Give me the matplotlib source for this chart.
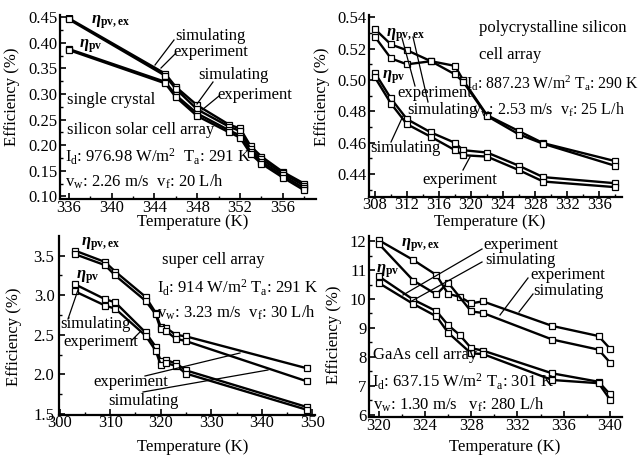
import matplotlib
matplotlib.use("Agg")
import matplotlib.pyplot as plt
from matplotlib.ticker import MultipleLocator, FormatStrFormatter

plt.rcParams['font.family'] = ['Liberation Serif', 'DejaVu Serif']
plt.rcParams['mathtext.fontset'] = 'custom'
plt.rcParams['mathtext.rm'] = 'Liberation Serif'
plt.rcParams['mathtext.it'] = 'Liberation Serif:italic'
plt.rcParams['mathtext.bf'] = 'Liberation Serif:bold:italic'
plt.rcParams['mathtext.sf'] = 'Liberation Serif:bold'

# ---------------- data ----------------
# Panel 1: single crystal silicon
p1_T = [336, 345, 346, 348, 351, 352, 353, 354, 356, 358]
p1_ex_sim = [0.448, 0.340, 0.314, 0.278, 0.240, 0.233, 0.198, 0.178, 0.148, 0.125]
p1_ex_exp = [0.446, 0.336, 0.310, 0.270, 0.236, 0.228, 0.192, 0.173, 0.145, 0.121]
p1_pv_sim = [0.388, 0.324, 0.298, 0.262, 0.229, 0.219, 0.187, 0.168, 0.141, 0.116]
p1_pv_exp = [0.386, 0.321, 0.294, 0.257, 0.225, 0.215, 0.183, 0.164, 0.137, 0.112]

# Panel 2: polycrystalline silicon
p2_T = [308, 310, 312, 315, 318, 319, 322, 326, 329, 338]
p2_ex_a = [0.5325, 0.5227, 0.519, 0.512, 0.509, 0.500, 0.4775, 0.4673, 0.4597, 0.4482]
p2_ex_b = [0.5276, 0.5138, 0.510, 0.512, 0.5036, 0.4990, 0.4770, 0.4652, 0.4593, 0.4452]
p2_pv_a = [0.5046, 0.4882, 0.4750, 0.4665, 0.4599, 0.4552, 0.4537, 0.4452, 0.4380, 0.4341]
p2_pv_b = [0.5017, 0.4850, 0.4718, 0.4637, 0.4552, 0.4520, 0.4511, 0.4424, 0.4352, 0.4316]

# Panel 3: super cell array
p3_T = [303, 309, 311, 317, 319, 320, 321, 323, 325, 349]
p3_ex_a = [3.565, 3.42, 3.30, 2.98, 2.78, 2.60, 2.59, 2.50, 2.48, 2.075]
p3_ex_b = [3.52, 3.38, 3.25, 2.93, 2.76, 2.57, 2.55, 2.45, 2.42, 1.91]
p3_pv_a = [3.14, 2.95, 2.91, 2.53, 2.35, 2.17, 2.18, 2.14, 2.05, 1.585]
p3_pv_b = [3.05, 2.87, 2.83, 2.49, 2.30, 2.12, 2.14, 2.11, 2.01, 1.55]

# Panel 4: GaAs cell array
p4_T_a = [320, 323, 325, 326, 327, 328, 329, 335, 339, 340]
p4_ex_exp = [12.04, 11.35, 10.83, 10.18, 10.08, 9.85, 9.92, 9.07, 8.72, 8.28]
p4_pv_a = [10.79, 9.98, 9.58, 9.10, 8.76, 8.30, 8.22, 7.43, 7.14, 6.70]
p4_T_b = [320, 323, 325, 326, 328, 329, 335, 339, 340]
p4_ex_sim = [11.92, 10.64, 10.16, 10.57, 9.57, 9.52, 8.60, 8.25, 7.80]
p4_pv_b = [10.56, 9.83, 9.40, 8.84, 8.12, 8.10, 7.20, 7.09, 6.52]

xlabel = "Temperature (K)"
ylabel = "Efficiency (%)"
lab_ex = r"$\mathbf{\eta}_{\mathsf{pv,ex}}$"
lab_pv = r"$\mathbf{\eta}_{\mathsf{pv}}$"

W, H = 639, 457
fig = plt.figure(figsize=(W / 100, H / 100), dpi=100)


def P(x, y):
    return (x / W, 1 - y / H)


def add_axes(l, r, b, t):
    return fig.add_axes([l / W, 1 - b / H, (r - l) / W, (b - t) / H])


LINE = dict(color='black', lw=1.7, marker='s', ms=4.3, mfc='white',
            mec='black', mew=0.9)
FS = 12


def style(ax, xlim, ylim, xmaj, xmin, ymaj, ymin, yfmt):
    ax.set_xlim(*xlim)
    ax.set_ylim(*ylim)
    ax.xaxis.set_major_locator(MultipleLocator(xmaj))
    ax.xaxis.set_minor_locator(MultipleLocator(xmin))
    ax.yaxis.set_major_locator(MultipleLocator(ymaj))
    ax.yaxis.set_minor_locator(MultipleLocator(ymin))
    ax.yaxis.set_major_formatter(FormatStrFormatter(yfmt))
    for s in ['top', 'right']:
        ax.spines[s].set_visible(False)
    for s in ['left', 'bottom']:
        ax.spines[s].set_linewidth(1.6)
    ax.tick_params(which='major', direction='in', length=4, width=1.2,
                   labelsize=FS)
    ax.tick_params(axis='x', which='major', pad=0.5)
    ax.tick_params(axis='y', which='major', pad=2)
    ax.tick_params(which='minor', direction='in', length=2.5, width=1.0)
    ax.patch.set_alpha(0)


def txt(x, y, s, fs=FS):
    fig.text(*P(x, y), s, ha='left', va='center', fontsize=fs)


def ptr(x0, y0, x1, y1):
    fig.add_artist(plt.Line2D([x0 / W, x1 / W], [1 - y0 / H, 1 - y1 / H],
                              color='black', lw=0.9,
                              transform=fig.transFigure))


def labels(xl, yl):
    fig.text(*P(*xl), xlabel, ha='center', va='center', fontsize=FS)
    fig.text(*P(*yl), ylabel, ha='center', va='center', fontsize=FS,
             rotation=90)


# ---------------- Panel 1 ----------------
ax1 = add_axes(60.3, 316, 199, 15)
ax1.plot(p1_T, p1_ex_sim, **LINE)
ax1.plot(p1_T, p1_ex_exp, **LINE)
ax1.plot(p1_T, p1_pv_sim, **LINE)
ax1.plot(p1_T, p1_pv_exp, **LINE)
style(ax1, (335.2, 359.1), (0.095, 0.4545), 4, 2, 0.05, 0.025, '%.2f')
labels((193, 222.5), (12.5, 97))
txt(91, 22, lab_ex)
txt(79, 46, lab_pv)
txt(175, 36.5, "simulating")
txt(173, 51.5, "experiment")
ptr(155, 65, 174, 40)
ptr(161, 68, 176, 53)
txt(198, 75, "simulating")
txt(217, 95, "experiment")
ptr(197, 104, 213, 82)
ptr(202, 110, 219, 96)
txt(67, 100, "single crystal")
txt(67, 130, "silicon solar cell array")
txt(65, 157, r"I$_\mathrm{d}$: 976.98 W/m$^\mathrm{2}$  T$_\mathrm{a}$: 291 K")
txt(65, 182, r"v$_\mathrm{w}$: 2.26 m/s  v$_\mathrm{f}$: 20 L/h")

# ---------------- Panel 2 ----------------
ax2 = add_axes(369.3, 621.7, 196.7, 15)
ax2.plot(p2_T, p2_ex_a, **LINE)
ax2.plot(p2_T, p2_ex_b, **LINE)
ax2.plot(p2_T, p2_pv_a, **LINE)
ax2.plot(p2_T, p2_pv_b, **LINE)
style(ax2, (307.3, 338.8), (0.4255, 0.5415), 4, 2, 0.02, 0.01, '%.2f')
labels((490, 222.5), (322, 97))
txt(386, 35, lab_ex)
txt(382, 77, lab_pv)
txt(479, 28, "polycrystalline silicon")
txt(479, 55, "cell array")
txt(466, 83, r"I$_\mathrm{d}$: 887.23 W/m$^\mathrm{2}$ T$_\mathrm{a}$: 290 K", 11.3)
txt(472, 110, r"v$_\mathrm{w}$: 2.53 m/s  v$_\mathrm{f}$: 25 L/h", 11.5)
txt(397, 93, "experiment")
txt(407, 110, "simulating")
ptr(402, 38, 415, 86)
ptr(413, 37, 428, 102)
txt(370, 148, "simulating")
txt(422, 180, "experiment")
ptr(391, 142, 403, 116)
ptr(463, 170, 470, 157)

# ---------------- Panel 3 ----------------
ax3 = add_axes(59.3, 315, 414.7, 236.3)
ax3.plot(p3_T, p3_ex_a, **LINE)
ax3.plot(p3_T, p3_ex_b, **LINE)
ax3.plot(p3_T, p3_pv_a, **LINE)
ax3.plot(p3_T, p3_pv_b, **LINE)
style(ax3, (299.95, 350.5), (1.49, 3.745), 10, 5, 0.5, 0.25, '%.1f')
ax3.tick_params(axis='y', which='major', pad=3.5)
labels((192.5, 447), (14.5, 337))
txt(81, 244, lab_ex)
txt(76, 277, lab_pv)
txt(162, 260, "super cell array")
txt(157, 288, r"I$_\mathrm{d}$: 914 W/m$^\mathrm{2}$ T$_\mathrm{a}$: 291 K")
txt(157, 313, r"v$_\mathrm{w}$: 3.23 m/s  v$_\mathrm{f}$: 30 L/h")
txt(60, 324, "simulating")
txt(63, 342, "experiment")
ptr(68, 319, 79, 287)
ptr(132, 340, 140, 332)
txt(93, 382, "experiment")
txt(108, 401, "simulating")
ptr(145, 376, 240, 353)
ptr(143, 392, 268, 370)

# ---------------- Panel 4 ----------------
ax4 = add_axes(369.3, 621.7, 417.3, 236.3)
ax4.plot(p4_T_a, p4_ex_exp, **LINE)
ax4.plot(p4_T_b, p4_ex_sim, **LINE)
ax4.plot(p4_T_a, p4_pv_a, **LINE)
ax4.plot(p4_T_b, p4_pv_b, **LINE)
style(ax4, (319.2, 341.0), (5.91, 12.17), 4, 2, 1, 0.5, '%d')
labels((505, 447), (334.5, 335))
txt(401, 245, lab_ex)
txt(376, 271, lab_pv)
txt(483, 245, "experiment")
txt(485, 260.5, "simulating")
ptr(482, 249, 403, 295)
ptr(482, 262, 410, 302)
txt(530, 275, "experiment")
txt(533, 291, "simulating")
ptr(528, 278, 500, 315)
ptr(533, 294, 519, 312)
txt(373, 355, "GaAs cell array")
txt(372, 382, r"I$_\mathrm{d}$: 637.15 W/m$^\mathrm{2}$ T$_\mathrm{a}$: 301 K")
txt(373, 405, r"v$_\mathrm{w}$: 1.30 m/s   v$_\mathrm{f}$: 280 L/h")

fig.savefig("out.png", dpi=100)
